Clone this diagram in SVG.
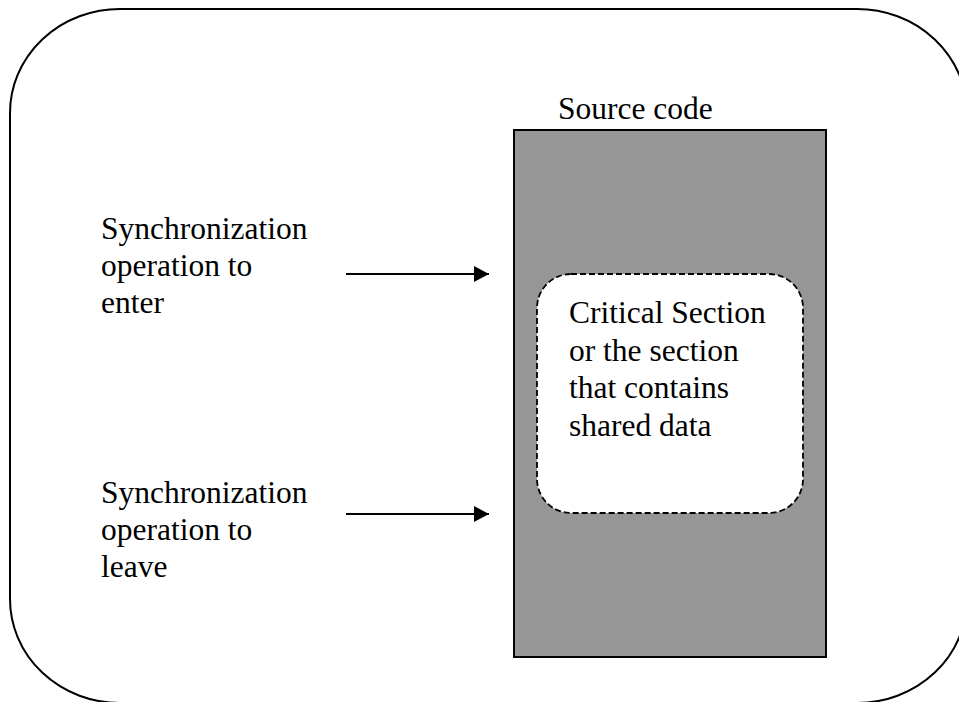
<svg xmlns="http://www.w3.org/2000/svg" width="959" height="702" viewBox="0 0 959 702">
<style>
.t{font-family:'Liberation Serif','Times New Roman',Tinos,'DejaVu Serif',serif;font-size:31.5px;fill:#000}
.conn{stroke:#000;stroke-width:2;fill:none}
</style>
<defs>
<marker id="ah" markerUnits="userSpaceOnUse" markerWidth="16" markerHeight="16" refX="15" refY="8" orient="auto">
<path d="M0,0 L15,8 L0,16 Z" fill="#000"/>
</marker>
</defs>
<rect width="959" height="702" fill="#fff"/>
<g id="frame">
<rect x="10" y="9" width="957" height="694" rx="110" ry="104" fill="none" stroke="#000" stroke-width="2"/>
</g>
<g id="source-code">
<rect x="514" y="130" width="312" height="527" fill="#969696" stroke="#000" stroke-width="2"/>
<text class="t" font-family="Liberation Serif, serif" x="558" y="119">Source code</text>
</g>
<g id="critical-section">
<rect x="537" y="274" width="266" height="239" rx="34" ry="34" fill="#fff" stroke="#000" stroke-width="1.8" stroke-dasharray="6,3"/>
<text class="t" font-family="Liberation Serif, serif" x="569" y="323">Critical Section</text>
<text class="t" font-family="Liberation Serif, serif" x="569" y="360.5">or the section</text>
<text class="t" font-family="Liberation Serif, serif" x="569" y="398">that contains</text>
<text class="t" font-family="Liberation Serif, serif" x="569" y="435.5">shared data</text>
</g>
<g id="sync-enter">
<text class="t" font-family="Liberation Serif, serif" x="101" y="239">Synchronization</text>
<text class="t" font-family="Liberation Serif, serif" x="101" y="276">operation to</text>
<text class="t" font-family="Liberation Serif, serif" x="101" y="313">enter</text>
</g>
<g id="sync-leave">
<text class="t" font-family="Liberation Serif, serif" x="101" y="503">Synchronization</text>
<text class="t" font-family="Liberation Serif, serif" x="101" y="540">operation to</text>
<text class="t" font-family="Liberation Serif, serif" x="101" y="577">leave</text>
</g>
<g id="connectors">
<line class="conn" x1="346" y1="274" x2="489" y2="274" marker-end="url(#ah)"/>
<line class="conn" x1="346" y1="514" x2="489" y2="514" marker-end="url(#ah)"/>
</g>
</svg>
